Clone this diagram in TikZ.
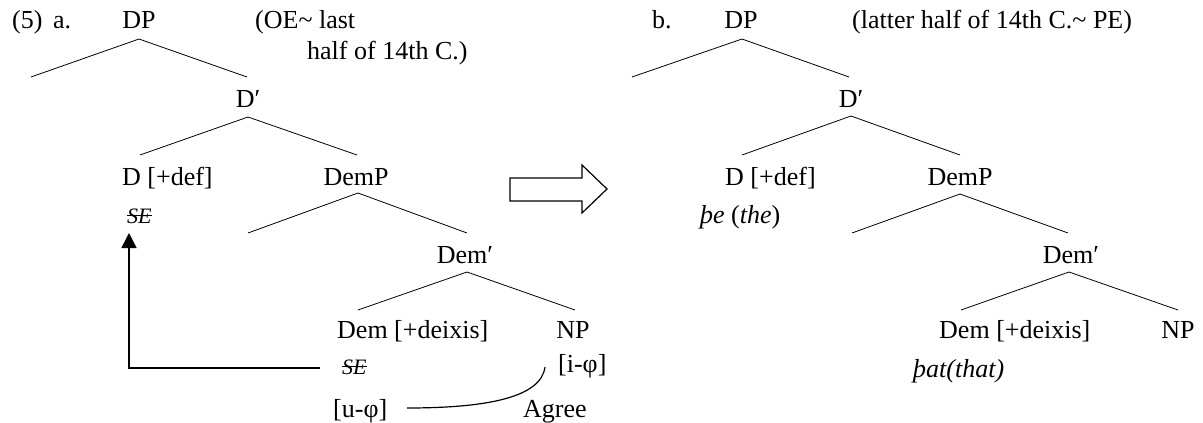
\documentclass[tikz,border=0pt]{standalone}
\usepackage{fontspec}
\setmainfont{Liberation Serif}
\usetikzlibrary{arrows.meta}
\newcommand{\strk}[1]{\leavevmode\setbox0=\hbox{#1}\rlap{\rule[0.32em]{\wd0}{1.2pt}}\box0}
\tikzset{
  lbl/.style={inner sep=0pt, font=\fontsize{26}{30}\selectfont},
  lblL/.style={lbl, anchor=base west},
  lblC/.style={lbl, anchor=base},
  small/.style={inner sep=0pt, anchor=base west, font=\fontsize{22}{25}\selectfont\itshape},
  branch/.style={line width=0.8pt},
  movearrow/.style={line width=1.5pt, -{Triangle[length=15pt,width=15pt]}},
  blockarrow/.style={line width=1.2pt, line join=miter}
}
\begin{document}
\begin{tikzpicture}[x=1pt,y=-1pt]
\useasboundingbox (0,0) rectangle (1203,423);
% ---------- tree a ----------
\node[lblL] (num) at (12,28) {(5)};
\node[lblL] (la) at (53,28) {a.};
\node[lblC] (dpA) at (139,28) {DP};
\node[lblL] (oe1) at (255,28) {(OE\char"7E\ last};
\node[lblL] (oe2) at (307,59) {half of 14th C.)};
\node[lblC] (dbA) at (248,107) {D′};
\node[lblL] (dA) at (122,185) {D [+def]};
\node[lblC] (dempA) at (356,185) {DemP};
\node[small] (seA) at (127,223) {\strk{SE}};
\node[lblC] (dembA) at (465,263) {Dem′};
\node[lblL] (demA) at (337,338) {Dem [+deixis]};
\node[lblC] (npA) at (573,338) {NP};
\node[small] (seB) at (342,374) {\strk{SE}};
\node[lblL] (iphi) at (558,372) {[i-φ]};
\node[lblL] (uphi) at (333,417) {[u-φ]};
\node[lblL] (agree) at (523,417) {Agree};
\coordinate (a1) at (139,39);  \coordinate (a1l) at (31,77);   \coordinate (a1r) at (247,77);
\coordinate (a2) at (248,117); \coordinate (a2l) at (140,155); \coordinate (a2r) at (357,155);
\coordinate (a3) at (358,193); \coordinate (a3l) at (248,233); \coordinate (a3r) at (467,233);
\coordinate (a4) at (467,272); \coordinate (a4l) at (358,310); \coordinate (a4r) at (575,310);
\draw[branch] (a1l) -- (a1) -- (a1r);
\draw[branch] (a2l) -- (a2) -- (a2r);
\draw[branch] (a3l) -- (a3) -- (a3r);
\draw[branch] (a4l) -- (a4) -- (a4r);
% movement arrow
\coordinate (mvS) at (320,368);
\coordinate (mvE) at (129,233);
\draw[movearrow] (mvS) -| (mvE);
% agree curve
\coordinate (agS) at (407,408);
\coordinate (agE) at (545,367);
\draw[line width=1.2pt] (agS) .. controls (485,408) and (541,398) .. (agE);
% ---------- block arrow ----------
\draw[blockarrow] (510,178) -- (582,178) -- (582,165) -- (607,189) -- (582,213) -- (582,201) -- (510,201) -- cycle;
% ---------- tree b ----------
\node[lblL] (lb) at (652,28) {b.};
\node[lblC] (dpB) at (741,28) {DP};
\node[lblL] (pe) at (852,28) {(latter half of 14th C.\char"7E\ PE)};
\node[lblC] (dbB) at (851,107) {D′};
\node[lblL] (dB) at (725,185) {D [+def]};
\node[lblC] (dempB) at (960,185) {DemP};
\node[lblL] (the) at (700,223) {\itshape þe \upshape(\itshape the\/\upshape)};
\node[lblC] (dembB) at (1071,263) {Dem′};
\node[lblL] (demB) at (939,338) {Dem [+deixis]};
\node[lblC] (npB) at (1178,338) {NP};
\node[lblL] (that) at (913,377) {\itshape þat(that)};
\coordinate (b1) at (742,39);  \coordinate (b1l) at (632,77);  \coordinate (b1r) at (849,77);
\coordinate (b2) at (851,116); \coordinate (b2l) at (742,155); \coordinate (b2r) at (960,155);
\coordinate (b3) at (960,194); \coordinate (b3l) at (852,233); \coordinate (b3r) at (1068,233);
\coordinate (b4) at (1069,272); \coordinate (b4l) at (961,310); \coordinate (b4r) at (1178,310);
\draw[branch] (b1l) -- (b1) -- (b1r);
\draw[branch] (b2l) -- (b2) -- (b2r);
\draw[branch] (b3l) -- (b3) -- (b3r);
\draw[branch] (b4l) -- (b4) -- (b4r);
\end{tikzpicture}
\end{document}
